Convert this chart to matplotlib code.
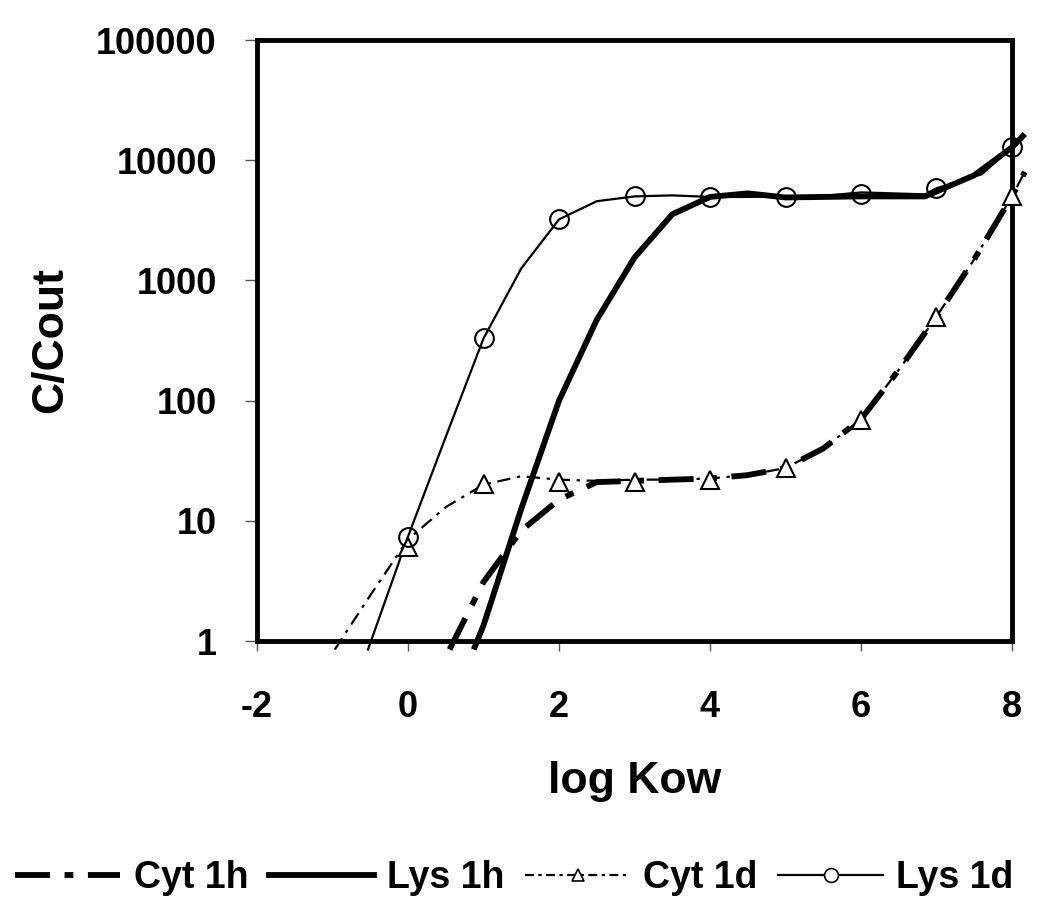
import matplotlib
matplotlib.use("Agg")
import matplotlib.pyplot as plt
from matplotlib.lines import Line2D

plt.rcParams['font.family'] = ['Liberation Sans', 'DejaVu Sans']
plt.rcParams['font.weight'] = 'bold'

# curves (log Kow vs C/Cout)
cyt1h_x = [0.55, 1.0, 1.5, 2.0, 2.5, 3.0, 3.5, 4.0, 4.5, 5.0, 5.5, 6.0, 6.5, 7.0, 7.5, 8.0, 8.17]
cyt1h_y = [0.85, 3.1, 8.3, 15, 21, 21.5, 22, 22.5, 24, 27.5, 40, 70, 180, 500, 1500, 5000, 8000]

lys1h_x = [0.87, 1.0, 1.5, 2.0, 2.5, 3.0, 3.5, 4.0, 4.5, 5.0, 5.5, 6.0, 6.5, 6.85, 7.5, 8.0, 8.17]
lys1h_y = [0.85, 1.35, 12.6, 100, 470, 1550, 3550, 4950, 5300, 4900, 4950, 5000, 5000, 5000, 7500, 12800, 16500]

cyt1d_x = [-0.97, -0.5, 0.0, 0.5, 1.0, 1.5, 2.0, 2.5, 3.0, 3.5, 4.0, 4.5, 5.0, 5.5, 6.0, 6.5, 7.0, 7.5, 8.0, 8.17]
cyt1d_y = [0.85, 2.4, 7.0, 13, 20, 23.5, 22, 21.5, 22, 22, 22.5, 24, 27.5, 40, 70, 180, 500, 1500, 5000, 8000]

lys1d_x = [-0.53, 0.0, 0.5, 1.0, 1.5, 2.0, 2.5, 3.0, 3.5, 4.0, 4.5, 5.0, 5.5, 6.0, 6.85, 7.0, 7.6, 8.0, 8.17]
lys1d_y = [0.85, 7.4, 50, 329, 1260, 3220, 4560, 5000, 5100, 4950, 4950, 5000, 5050, 5400, 5200, 5850, 7640, 12800, 16000]

# marker points (integer log Kow)
cyt1d_mx = [0, 1, 2, 3, 4, 5, 6, 7, 8]
cyt1d_my = [6.0, 20.3, 21, 21, 22, 27.6, 69, 500, 5000]
lys1d_mx = [0, 1, 2, 3, 4, 5, 6, 7, 8]
lys1d_my = [7.4, 329, 3220, 5000, 4950, 4900, 5200, 5850, 12800]

xticks = [-2, 0, 2, 4, 6, 8]
yticks = [1, 10, 100, 1000, 10000, 100000]
ytick_labels = ['1', '10', '100', '1000', '10000', '100000']

fig = plt.figure(figsize=(10.5, 9.16), dpi=100)
ax = fig.add_axes([0.2448, 0.3002, 0.719, 0.6561])

cyt1h_dash = (6, 2.5, 1.5, 2.5)
cyt1d_dash = (6, 3, 1.5, 3)

ax.plot(cyt1h_x, cyt1h_y, color='black', lw=4.2, dashes=cyt1h_dash, clip_on=False, zorder=3)
ax.plot(lys1h_x, lys1h_y, color='black', lw=4.2, solid_capstyle='butt', clip_on=False, zorder=3)
ax.plot(cyt1d_x, cyt1d_y, color='black', lw=1.6, dashes=cyt1d_dash, clip_on=False, zorder=3)
ax.plot(lys1d_x, lys1d_y, color='black', lw=1.6, clip_on=False, zorder=3)
ax.plot(cyt1d_mx, cyt1d_my, ls='none', marker='^', ms=12.5, mfc='white', mec='black', mew=1.5,
        clip_on=False, zorder=4)
ax.plot(lys1d_mx, lys1d_my, ls='none', marker='o', ms=13.5, mfc='none', mec='black', mew=1.5,
        clip_on=False, zorder=4)

ax.set_yscale('log')
ax.set_xlim(-2, 8)
ax.set_ylim(1, 100000)
ax.set_xticks(xticks)
ax.set_xticklabels([str(t) for t in xticks])
ax.set_yticks(yticks)
ax.set_yticklabels(ytick_labels)
ax.minorticks_off()

for s in ax.spines.values():
    s.set_linewidth(3.5)
ax.tick_params(axis='x', direction='out', length=7, width=1, color='#555555',
               pad=28, labelsize=26)
ax.tick_params(axis='y', direction='out', length=9, width=1, color='#555555',
               pad=20, labelsize=26)

ax.set_xlabel('log Kow', fontsize=32, fontweight='bold', labelpad=26)
ax.set_ylabel('C/Cout', fontsize=32, fontweight='bold', labelpad=18)

handles = [
    Line2D([], [], color='black', lw=4.2, dashes=cyt1h_dash),
    Line2D([], [], color='black', lw=4.2),
    Line2D([], [], color='black', lw=1.6, dashes=(4, 2, 1.5, 2), marker='^', ms=8,
           mfc='white', mec='black', mew=1.2, markevery=[1]),
    Line2D([], [], color='black', lw=1.6, marker='o', ms=10, mfc='white', mec='black',
           mew=1.2, markevery=[1]),
]
for h in handles:
    h.set_xdata([0, 0.5, 1])
labels = ['Cyt 1h', 'Lys 1h', 'Cyt 1d', 'Lys 1d']
fig.legend(handles, labels, loc='center', bbox_to_anchor=(0.49, 0.041), ncol=4,
           frameon=False, fontsize=27, handlelength=2.8, handletextpad=0.35,
           columnspacing=0.55)

fig.savefig('out.png', dpi=100)
